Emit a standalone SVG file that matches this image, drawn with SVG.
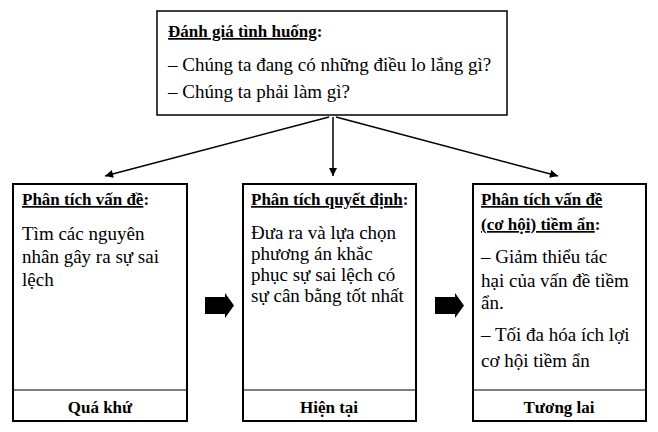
<svg xmlns="http://www.w3.org/2000/svg" width="658" height="432" viewBox="0 0 658 432">
<style>
text{font-family:"Liberation Serif","Times New Roman",serif;fill:#000}
.t{font-weight:bold;font-size:17px}
.u{text-decoration:underline}
.b{font-size:19px}
.box{fill:#fff;stroke:#000;stroke-width:2}
.div{stroke:#000;stroke-width:1.2}
.c{stroke:#000;stroke-width:1.5;fill:none}
</style>
<defs>
<marker id="ah" viewBox="0 0 10 10" refX="10" refY="5" markerWidth="10" markerHeight="8" markerUnits="userSpaceOnUse" orient="auto">
<path d="M0,0 L10,5 L0,10 z" fill="#000"/>
</marker>
</defs>
<rect width="658" height="432" fill="#fff"/>
<g id="top">
<rect x="157" y="11" width="350" height="104" fill="#fff" stroke="#000" stroke-width="1.5"/>
<text x="168" y="37" class="t"><tspan class="u">Đánh giá tình huống</tspan>:</text>
<text x="168" y="71" class="b">– Chúng ta đang có những điều lo lắng gì?</text>
<text x="168" y="98" class="b">– Chúng ta phải làm gì?</text>
</g>
<g id="past">
<rect x="13" y="184" width="174" height="237" class="box"/>
<line x1="13" y1="390" x2="187" y2="390" class="div"/>
<text x="22" y="205" class="t"><tspan class="u">Phân tích vấn đề</tspan>:</text>
<text x="22" y="240" class="b">Tìm các nguyên</text>
<text x="22" y="263" class="b">nhân gây ra sự sai</text>
<text x="22" y="286" class="b">lệch</text>
<text x="100" y="413" class="t" text-anchor="middle">Quá khứ</text>
</g>
<g id="present">
<rect x="243" y="184" width="173" height="237" class="box"/>
<line x1="243" y1="390" x2="416" y2="390" class="div"/>
<text x="251" y="205" class="t"><tspan class="u">Phân tích quyết định</tspan>:</text>
<text x="251" y="239" class="b">Đưa ra và lựa chọn</text>
<text x="251" y="260" class="b">phương án khắc</text>
<text x="251" y="281" class="b">phục sự sai lệch có</text>
<text x="251" y="302" class="b">sự cân bằng tốt nhất</text>
<text x="329" y="413" class="t" text-anchor="middle">Hiện tại</text>
</g>
<g id="future">
<rect x="473" y="184" width="173" height="237" class="box"/>
<line x1="473" y1="390" x2="646" y2="390" class="div"/>
<text x="481" y="205" class="t"><tspan class="u">Phân tích vấn đề</tspan></text>
<text x="481" y="230" class="t"><tspan class="u">(cơ hội) tiềm ẩn</tspan>:</text>
<text x="481" y="263" class="b">– Giảm thiểu tác</text>
<text x="481" y="287" class="b">hại của vấn đề tiềm</text>
<text x="481" y="309" class="b">ẩn.</text>
<text x="481" y="341" class="b">– Tối đa hóa ích lợi</text>
<text x="481" y="367" class="b">cơ hội tiềm ẩn</text>
<text x="559" y="413" class="t" text-anchor="middle">Tương lai</text>
</g>
<g id="connectors">
<line x1="329" y1="117" x2="105" y2="176" class="c" marker-end="url(#ah)"/>
<line x1="333" y1="117" x2="333" y2="176" class="c" marker-end="url(#ah)"/>
<line x1="336" y1="117" x2="558" y2="176" class="c" marker-end="url(#ah)"/>
<path d="M205,297 H225 V293 L234,305.5 L225,318 V314 H205 z" fill="#000"/>
<path d="M435,297 H455 V293 L464,305.5 L455,318 V314 H435 z" fill="#000"/>
</g>
</svg>
